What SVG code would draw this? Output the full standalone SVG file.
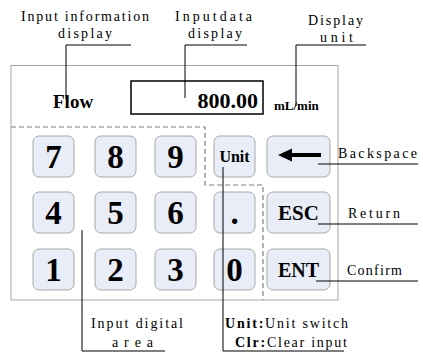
<svg xmlns="http://www.w3.org/2000/svg" width="423" height="357" viewBox="0 0 423 357" font-family="'Liberation Serif', serif">
<style>
.btn rect{fill:#e9edf7;stroke:#a8a8a8;stroke-width:1}
.key{font-weight:bold;font-size:33px;text-anchor:middle}
.bl{font-weight:bold;text-anchor:middle}
.lbl{font-size:14px}
.ld{stroke:#000;stroke-width:1;fill:none}
</style>
<rect width="423" height="357" fill="#fff"/>
<g id="panel">
<rect x="11" y="65.5" width="327" height="234.5" fill="none" stroke="#a6a6a6" stroke-width="1"/>
<path d="M11 127H205V185H263V300" fill="none" stroke="#7f7f7f" stroke-width="1.2" stroke-dasharray="5 3"/>
</g>
<g id="flow"><text x="53" y="108" font-family="'Liberation Serif', serif" font-weight="bold" font-size="19">Flow</text></g>
<g id="databox"><rect x="131" y="81" width="132" height="33" fill="#fff" stroke="#000" stroke-width="1.5"/>
<text x="258" y="108" text-anchor="end" font-family="'Liberation Serif', serif" font-weight="bold" font-size="22">800.00</text></g>
<g id="unitlabel"><text x="274" y="110" font-family="'Liberation Serif', serif" font-weight="bold" font-size="13">mL/min</text></g>
<g id="k7" class="btn"><rect x="33" y="136" width="41" height="41" rx="6"/><text class="key" font-family="'Liberation Serif', serif" x="53.5" y="168">7</text></g>
<g id="k8" class="btn"><rect x="95" y="136" width="41" height="41" rx="6"/><text class="key" font-family="'Liberation Serif', serif" x="115.5" y="168">8</text></g>
<g id="k9" class="btn"><rect x="155" y="136" width="41" height="41" rx="6"/><text class="key" font-family="'Liberation Serif', serif" x="175.5" y="168">9</text></g>
<g id="kunit" class="btn"><rect x="214" y="136" width="41" height="41" rx="6"/><text class="bl" font-family="'Liberation Serif', serif" x="234.5" y="162" font-size="16">Unit</text></g>
<g id="kback" class="btn"><rect x="267" y="136" width="63" height="41" rx="6"/><path d="M290 155H321" stroke="#000" stroke-width="4"/><path d="M278 155L292 148.5V161.5Z" fill="#000"/></g>
<g id="k4" class="btn"><rect x="33" y="192" width="41" height="41" rx="6"/><text class="key" font-family="'Liberation Serif', serif" x="53.5" y="224">4</text></g>
<g id="k5" class="btn"><rect x="95" y="192" width="41" height="41" rx="6"/><text class="key" font-family="'Liberation Serif', serif" x="115.5" y="224">5</text></g>
<g id="k6" class="btn"><rect x="155" y="192" width="41" height="41" rx="6"/><text class="key" font-family="'Liberation Serif', serif" x="175.5" y="224">6</text></g>
<g id="kdot" class="btn"><rect x="214" y="192" width="41" height="41" rx="6"/><text class="key" font-family="'Liberation Serif', serif" x="234.5" y="224">.</text></g>
<g id="kesc" class="btn"><rect x="267" y="192" width="63" height="41" rx="6"/><text class="bl" font-family="'Liberation Serif', serif" x="298.5" y="220" font-size="21">ESC</text></g>
<g id="k1" class="btn"><rect x="33" y="249" width="41" height="41" rx="6"/><text class="key" font-family="'Liberation Serif', serif" x="53.5" y="281">1</text></g>
<g id="k2" class="btn"><rect x="95" y="249" width="41" height="41" rx="6"/><text class="key" font-family="'Liberation Serif', serif" x="115.5" y="281">2</text></g>
<g id="k3" class="btn"><rect x="155" y="249" width="41" height="41" rx="6"/><text class="key" font-family="'Liberation Serif', serif" x="175.5" y="281">3</text></g>
<g id="k0" class="btn"><rect x="214" y="249" width="41" height="41" rx="6"/><text class="key" font-family="'Liberation Serif', serif" x="234.5" y="281">0</text></g>
<g id="kent" class="btn"><rect x="267" y="249" width="63" height="41" rx="6"/><text class="bl" font-family="'Liberation Serif', serif" x="298.5" y="277" font-size="20">ENT</text></g>
<g id="connectors" class="ld">
<path d="M66 99V45H131"/>
<path d="M185 98V45H247"/>
<path d="M296 106V45H366"/>
<path d="M318 164H418"/>
<path d="M318 224H418"/>
<path d="M316 281H418"/>
<path d="M82 230V351H165"/>
<path d="M223 167V351H344"/>
</g>
<g id="annotations" class="lbl" font-family="'Liberation Serif', serif">
<text x="21" y="21" textLength="128" lengthAdjust="spacing">Input information</text>
<text x="58" y="38" textLength="54" lengthAdjust="spacing">display</text>
<text x="175" y="21" textLength="77" lengthAdjust="spacing">Inputdata</text>
<text x="188" y="38" textLength="54" lengthAdjust="spacing">display</text>
<text x="308" y="25" textLength="55" lengthAdjust="spacing">Display</text>
<text x="320" y="42" textLength="33" lengthAdjust="spacing">unit</text>
<text x="338" y="158" textLength="79" lengthAdjust="spacing">Backspace</text>
<text x="348" y="218" textLength="52" lengthAdjust="spacing">Return</text>
<text x="347" y="275" textLength="55" lengthAdjust="spacing">Confirm</text>
<text x="91" y="328" textLength="92" lengthAdjust="spacing">Input digital</text>
<text x="112" y="347" textLength="41" lengthAdjust="spacing">area</text>
<text x="225" y="328" textLength="123" lengthAdjust="spacing"><tspan font-weight="bold">Unit:</tspan>Unit switch</text>
<text x="235" y="347" textLength="112" lengthAdjust="spacing"><tspan font-weight="bold">Clr:</tspan>Clear input</text>
</g>
</svg>
